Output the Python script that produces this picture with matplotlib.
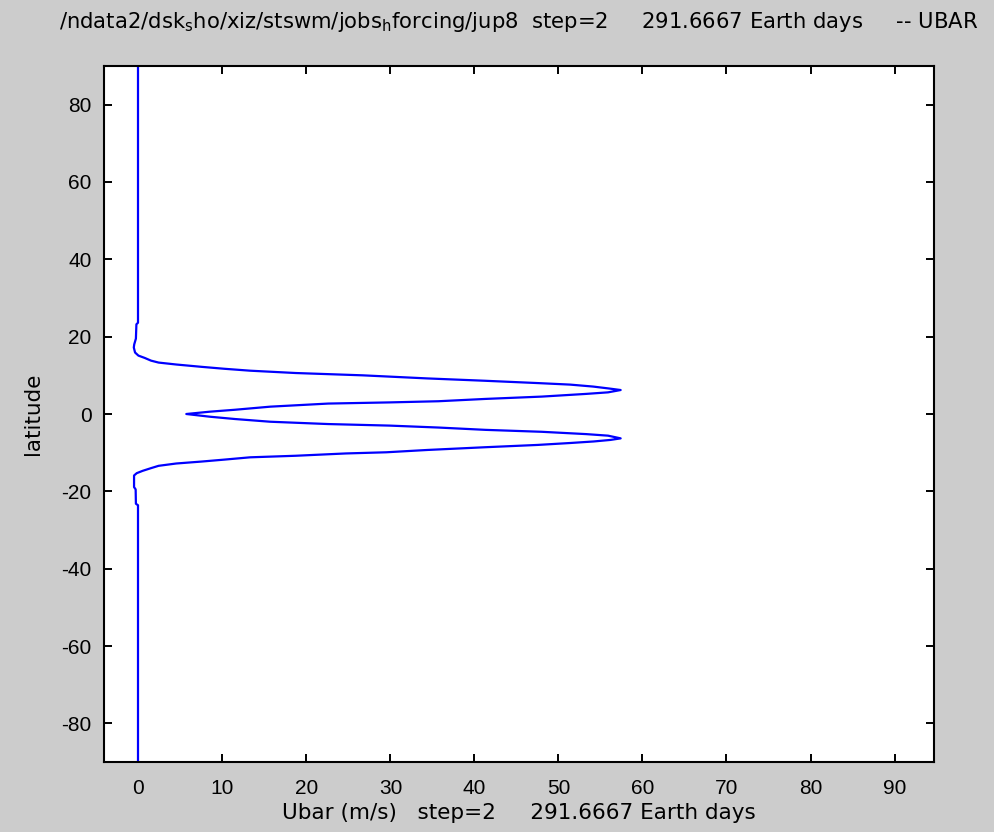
import numpy as np
import matplotlib.pyplot as plt

plt.rcParams['font.family'] = ['Liberation Sans', 'DejaVu Sans']
plt.rcParams['axes.unicode_minus'] = False

# zonal mean wind profile, walked from north pole to south pole
lat = [90, 23.6, 23.2, 19.5, 18.0, 17.2, 15.9, 15.1, 14.5, 13.8, 13.3, 12.8,
       12.2, 11.7, 11.2, 10.6, 10.0, 9.2, 8.6, 8.0, 7.6, 7.1, 6.6, 6.2,
       5.6, 5.2, 4.5, 3.9, 3.3, 3.0, 2.7, 1.9, 1.1, 0.6, 0.0,
       -0.7, -1.3, -2.0, -2.6, -3.0, -3.5, -4.1, -4.6, -5.2, -5.6,
       -6.3, -6.7, -7.1, -7.5, -8.0, -8.6, -9.3, -9.9, -10.2, -10.8,
       -11.2, -11.8, -12.3, -12.8, -13.4, -14.0, -14.7, -15.3, -15.9,
       -18.9, -19.5, -23.2, -23.6, -90]
ubar = [-0.05, -0.05, -0.24, -0.3, -0.5, -0.55, -0.4, 0.0, 0.75, 1.5, 2.4, 4.5,
        7.5, 10.2, 13.3, 18.7, 26.7, 34.4, 41.2, 47.5, 51.4, 54.1, 56.0, 57.4,
        55.9, 53.3, 48.0, 41.3, 35.7, 29.9, 22.6, 15.7, 11.5, 8.5, 5.7,
        8.5, 11.5, 15.7, 22.6, 29.9, 35.7, 41.3, 48.0, 53.3, 55.9,
        57.4, 56.2, 54.2, 51.4, 47.5, 41.2, 34.4, 29.5, 24.7, 18.7,
        13.3, 10.2, 7.5, 4.5, 2.4, 1.5, 0.5, -0.2, -0.52,
        -0.52, -0.33, -0.3, -0.05, -0.05]

xticks = np.arange(0, 91, 10)
yticks = np.arange(-80, 81, 20)

fig = plt.figure(figsize=(9.95, 8.32), dpi=100, facecolor='#cccccc')
ax = fig.add_axes([0.1045, 0.0841, 0.8342, 0.8366])
ax.set_facecolor('white')

ax.plot(ubar, lat, color='#0000ff', lw=1.6)

ax.set_xlim(-4.1, 94.7)
ax.set_ylim(-90, 90)
ax.set_xticks(xticks)
ax.set_yticks(yticks)
ax.tick_params(direction='in', length=6, width=1.4, labelsize=15,
               top=True, right=True)
ax.tick_params(axis='x', pad=12)
ax.tick_params(axis='y', pad=9)
for s in ax.spines.values():
    s.set_linewidth(1.5)

lab = dict(family='DejaVu Sans', fontsize=15.5)
ax.set_xlabel('Ubar (m/s)   step=2     291.6667 Earth days', labelpad=4, **lab)
ax.set_ylabel('latitude', labelpad=13, **lab)
ax.set_title(r'/ndata2/dsk$_{\mathrm{s}}$ho/xiz/stswm/jobs$_{\mathrm{h}}$forcing/jup8'
             '  step=2     291.6667 Earth days     -- UBAR',
             family='DejaVu Sans', fontsize=15.2, pad=27)

plt.savefig('out.png', facecolor=fig.get_facecolor())
